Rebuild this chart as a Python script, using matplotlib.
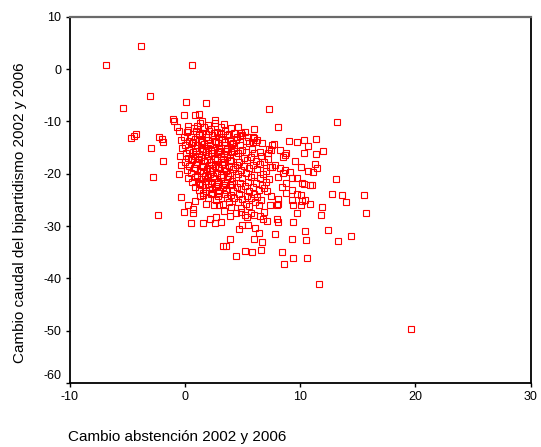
import matplotlib
matplotlib.use("Agg")
import matplotlib.pyplot as plt

plt.rcParams['font.family'] = ['Liberation Sans', 'DejaVu Sans']

# Outer / clearly separated points (x = cambio abstención, y = cambio caudal bipartidismo)
outer_x = [-6.8, -3.8, 0.6, -3.0, -5.4, 0.1, 1.8, 19.6, 11.6, 13.2, 7.3, 8.1, 6.0,
           -0.1, 0.9, 1.2, -1.0, -0.9, -0.7, -0.5, -4.7, -4.4, -4.2, -2.9, -2.2, -2.0, -1.9,
           1.5, 2.6, 1.1, 0.3, 0.3, -0.1, -1.9, -2.8, -2.3, -0.5, -0.3, -0.1, 0.3, 0.5,
           0.7, 0.7, 0.9, 1.3, 1.6, 1.8, 2.2, 2.7, 3.1, 2.6, 3.0, 2.5, 3.7, 3.8, 3.9, 4.4,
           3.9, 3.3, 3.6, 4.4, 4.7, 5.0, 6.1, 7.1, 8.1, 9.4, 6.4, 6.0, 7.8, 9.3, 10.4, 10.5,
           12.4, 13.3, 14.4, 6.7, 5.2, 5.8, 6.6, 8.4, 9.4, 10.6, 8.6,
           9.0, 9.7, 10.3, 11.4, 10.7, 10.3, 11.4, 12.0, 8.7, 8.3, 7.6, 7.3, 9.6, 10.1,
           11.3, 11.5, 10.7, 11.1, 13.1, 10.9, 10.2, 12.8, 13.6, 14.0, 15.5, 15.7, 11.9,
           11.8, 10.9, 10.1, 10.2, 9.7, 9.3, 9.7, 8.8, 9.3, 8.8, 9.7, 10.1, 10.4, 9.3, 9.4,
           8.1, 8.1, 7.5, 7.4, 6.9, 6.3, 6.4, 6.0, 8.4, 8.1, 8.7, 8.3, 9.1, 8.5, 7.4, 7.8,
           7.2, 6.5, 5.9, 6.2, 6.7, 5.9, 6.0, 8.5, 7.6, 8.0, 5.2, 8.0, 6.5, 6.8, 5.7, 5.4,
           10.3, 11.0, 4.9, 4.8, 7.7, 7.5, 8.8, 7.2, 5.5, 6.9]
outer_y = [0.8, 4.4, 0.8, -5.2, -7.5, -6.3, -6.4, -49.7, -41.0, -10.2, -7.7, -11.0, -11.5,
           -8.8, -8.8, -8.5, -9.5, -9.9, -11.1, -11.8, -13.1, -12.8, -12.5, -15.0, -12.9,
           -13.4, -13.9, -9.9, -9.7, -10.9, -10.8, -11.7, -12.9, -17.6, -20.6, -27.8, -20.1,
           -24.5, -27.3, -26.0, -29.5, -26.8, -27.6, -25.2, -24.3, -29.4, -25.8, -28.7,
           -28.3, -29.2, -29.5, -26.0, -26.0, -24.7, -25.4, -28.0, -27.6, -32.5, -33.8,
           -33.8, -35.7, -30.6, -29.8, -30.3, -29.0, -29.2, -29.2, -31.3, -32.4, -31.5,
           -32.4, -31.0, -32.7, -30.8, -32.9, -31.9, -33.1, -34.7, -35.0, -34.6, -35.0,
           -36.1, -36.1, -37.3,
           -13.7, -13.9, -13.6, -13.4, -14.8, -16.0, -16.2, -15.7, -16.4, -15.5, -14.5,
           -15.2, -17.6, -18.7, -18.2, -19.0, -19.4, -19.7, -21.1, -22.2, -21.8, -23.9,
           -24.1, -25.4, -24.1, -27.5, -26.4, -27.8, -25.7, -25.9, -25.3, -27.6, -20.9,
           -20.9, -21.7, -23.1, -23.6, -23.8, -24.1, -25.0, -25.0, -26.0, -24.9, -25.7,
           -24.3, -26.0, -27.3, -24.4, -26.0, -27.9, -22.5, -20.6, -19.3, -19.0, -19.6,
           -19.9, -18.7, -18.3, -17.1, -15.8, -13.9, -13.9, -14.2, -12.9, -13.1, -16.8,
           -18.8, -26.0, -27.9, -28.7, -28.0, -28.7, -27.6, -28.3, -22.0, -22.2, -12.2,
           -12.8, -14.4, -15.5, -16.1, -16.1, -29.9, -22.8]

# Dense core of the cloud
core_x = [1.3, 2.0, 2.6, 3.4,
          0.8, 1.7, 2.3, 3.1, 4.0, 4.6,
          0.2, 1.0, 1.5, 2.1, 2.8, 3.5, 4.3, 5.2,
          0.5, 1.2, 1.8, 2.4, 3.0, 3.7, 4.5, 5.0, 5.5,
          -0.3, 0.4, 0.9, 1.4, 2.0, 2.6, 3.2, 3.9, 4.4, 5.3, 6.3,
          0.0, 0.6, 1.1, 1.7, 2.2, 2.9, 3.5, 4.1, 4.8, 5.6,
          -0.2, 0.4, 0.9, 1.5, 2.0, 2.5, 3.1, 3.7, 4.3, 5.0, 5.8,
          0.1, 0.7, 1.2, 1.8, 2.3, 2.9, 3.4, 4.0, 4.6, 5.3, 6.0,
          -0.4, 0.3, 0.9, 1.4, 2.0, 2.6, 3.1, 3.7, 4.4, 5.1, 5.7, 6.6,
          0.0, 0.6, 1.1, 1.7, 2.3, 2.8, 3.4, 4.0, 4.7, 5.4, 6.2, 6.9,
          -0.3, 0.4, 1.0, 1.5, 2.1, 2.6, 3.2, 3.8, 4.5, 5.1, 5.9, 6.5,
          0.2, 0.8, 1.3, 1.9, 2.4, 3.0, 3.6, 4.2, 4.9, 5.6, 6.3, 7.0,
          0.5, 1.1, 1.6, 2.2, 2.8, 3.3, 3.9, 4.6, 5.3, 6.0, 6.8,
          0.3, 0.9, 1.4, 2.0, 2.5, 3.1, 3.7, 4.4, 5.0, 5.7, 6.5, 7.3,
          0.6, 1.2, 1.8, 2.3, 2.9, 3.5, 4.1, 4.8, 5.5, 6.2, 7.0,
          0.9, 1.5, 2.1, 2.7, 3.3, 3.9, 4.5, 5.2, 5.9, 6.7,
          1.2, 1.8, 2.4, 3.0, 3.6, 4.2, 4.9, 5.6, 6.4, 7.1,
          1.6, 2.3, 2.9, 3.4, 4.0, 4.7, 5.4, 6.0,
          2.0, 2.7, 4.3, 5.0, 5.7, 6.6,
          3.3, 4.6, 5.3, 6.1,
          4.0, 4.9, 5.6,
          3.4, 4.9,
          # extra filling of the saturated centre
          1.25, 1.85, 2.55, 3.15, 3.8,
          0.75, 1.45, 2.15, 2.7, 3.45, 4.15,
          1.0, 1.6, 2.3, 2.95, 3.6, 4.25,
          0.5, 1.2, 1.95, 2.6, 3.3, 3.95,
          0.85, 1.55, 2.2, 2.85, 3.5, 4.35,
          1.05, 1.75, 2.45, 3.1, 3.75,
          1.35, 2.0, 2.75, 3.4, 4.1,
          1.6, 2.35, 3.0]
core_y = [-10.4, -10.7, -10.3, -10.6,
          -11.3, -11.0, -11.4, -11.1, -11.3, -11.0,
          -12.1, -11.8, -12.2, -11.9, -12.1, -11.8, -12.2, -12.0,
          -12.9, -12.6, -13.0, -12.7, -12.9, -12.6, -13.0, -12.7, -12.9,
          -13.5, -13.8, -13.4, -13.7, -13.5, -13.8, -13.4, -13.7, -13.5, -13.8, -13.6,
          -14.5, -14.2, -14.6, -14.3, -14.5, -14.2, -14.6, -14.3, -14.5, -14.2,
          -15.1, -15.4, -15.0, -15.3, -15.1, -15.4, -15.0, -15.3, -15.1, -15.4, -15.2,
          -16.1, -15.8, -16.2, -15.9, -16.1, -15.8, -16.2, -15.9, -16.1, -15.8, -16.0,
          -16.7, -17.0, -16.6, -16.9, -16.7, -17.0, -16.6, -16.9, -16.7, -17.0, -16.8, -16.6,
          -17.7, -17.4, -17.8, -17.5, -17.7, -17.4, -17.8, -17.5, -17.7, -17.4, -17.6, -17.8,
          -18.3, -18.6, -18.2, -18.5, -18.3, -18.6, -18.2, -18.5, -18.3, -18.6, -18.4, -18.2,
          -19.3, -19.0, -19.4, -19.1, -19.3, -19.0, -19.4, -19.1, -19.3, -19.0, -19.2, -19.4,
          -19.9, -20.2, -19.8, -20.1, -19.9, -20.2, -19.8, -20.1, -19.9, -20.2, -20.0,
          -20.9, -20.6, -21.0, -20.7, -20.9, -20.6, -21.0, -20.7, -20.9, -20.6, -20.8, -21.0,
          -21.5, -21.8, -21.4, -21.7, -21.5, -21.8, -21.4, -21.7, -21.5, -21.8, -21.6,
          -22.5, -22.2, -22.6, -22.3, -22.5, -22.2, -22.6, -22.3, -22.5, -22.2,
          -23.1, -23.4, -23.0, -23.3, -23.1, -23.4, -23.0, -23.3, -23.1, -23.4,
          -24.1, -23.8, -24.2, -23.9, -24.1, -23.8, -24.2, -23.9,
          -24.7, -25.0, -24.6, -24.9, -24.7, -25.0,
          -25.7, -25.4, -25.8, -25.5,
          -26.3, -26.6, -26.2,
          -27.1, -27.4,
          -12.4, -12.5, -12.3, -12.5, -12.4,
          -14.0, -13.9, -14.1, -13.9, -14.0, -14.1,
          -15.6, -15.7, -15.5, -15.6, -15.7, -15.6,
          -17.2, -17.1, -17.3, -17.2, -17.1, -17.3,
          -18.9, -18.8, -18.9, -18.7, -18.9, -18.8,
          -20.4, -20.5, -20.4, -20.3, -20.5,
          -22.0, -21.9, -22.0, -22.1, -21.9,
          -23.6, -23.7, -23.6]

x_vals = outer_x + core_x
y_vals = outer_y + core_y

x_ticks = [-10, 0, 10, 20, 30]
y_ticks = [10, 0, -10, -20, -30, -40, -50, -60]

fig = plt.figure(figsize=(5.41, 4.47), dpi=100)
ax = fig.add_axes([69.5 / 541, 1 - 383 / 447, (530.7 - 69.5) / 541, (383 - 16.7) / 447])

ax.plot(x_vals, y_vals, linestyle='none', marker='s', markersize=4.0,
        markerfacecolor='none', markeredgecolor='#ff0000', markeredgewidth=0.8)

ax.set_xlim(-10, 30)
ax.set_ylim(-60, 10)
ax.set_xticks(x_ticks)
ax.set_xticklabels([str(t) for t in x_ticks])
ax.set_yticks(y_ticks)
ax.set_yticklabels([str(t) if t != -60 else '' for t in y_ticks])
ax.annotate('-60', xy=(0, -60), xycoords=('axes fraction', 'data'),
            xytext=(-6.0, 5), textcoords='offset points', ha='right', va='center',
            fontsize=9, color='#000000')

ax.tick_params(axis='both', direction='out', length=3, width=1, labelsize=9,
               colors='#000000', pad=3)
ax.tick_params(top=False, right=False)
for side in ['left', 'bottom', 'right']:
    ax.spines[side].set_color('#000000')
    ax.spines[side].set_linewidth(1.3)
ax.spines['top'].set_color('#6a6a6a')
ax.spines['top'].set_linewidth(1.6)

fig.text(20 / 541, 1 - 213 / 447, 'Cambio caudal del bipartidismo 2002 y 2006',
         rotation=90, ha='center', va='center', fontsize=11)
fig.text(68 / 541, 1 - 437 / 447, 'Cambio abstención 2002 y 2006',
         ha='left', va='center', fontsize=11)

fig.savefig('out.png', dpi=100)
